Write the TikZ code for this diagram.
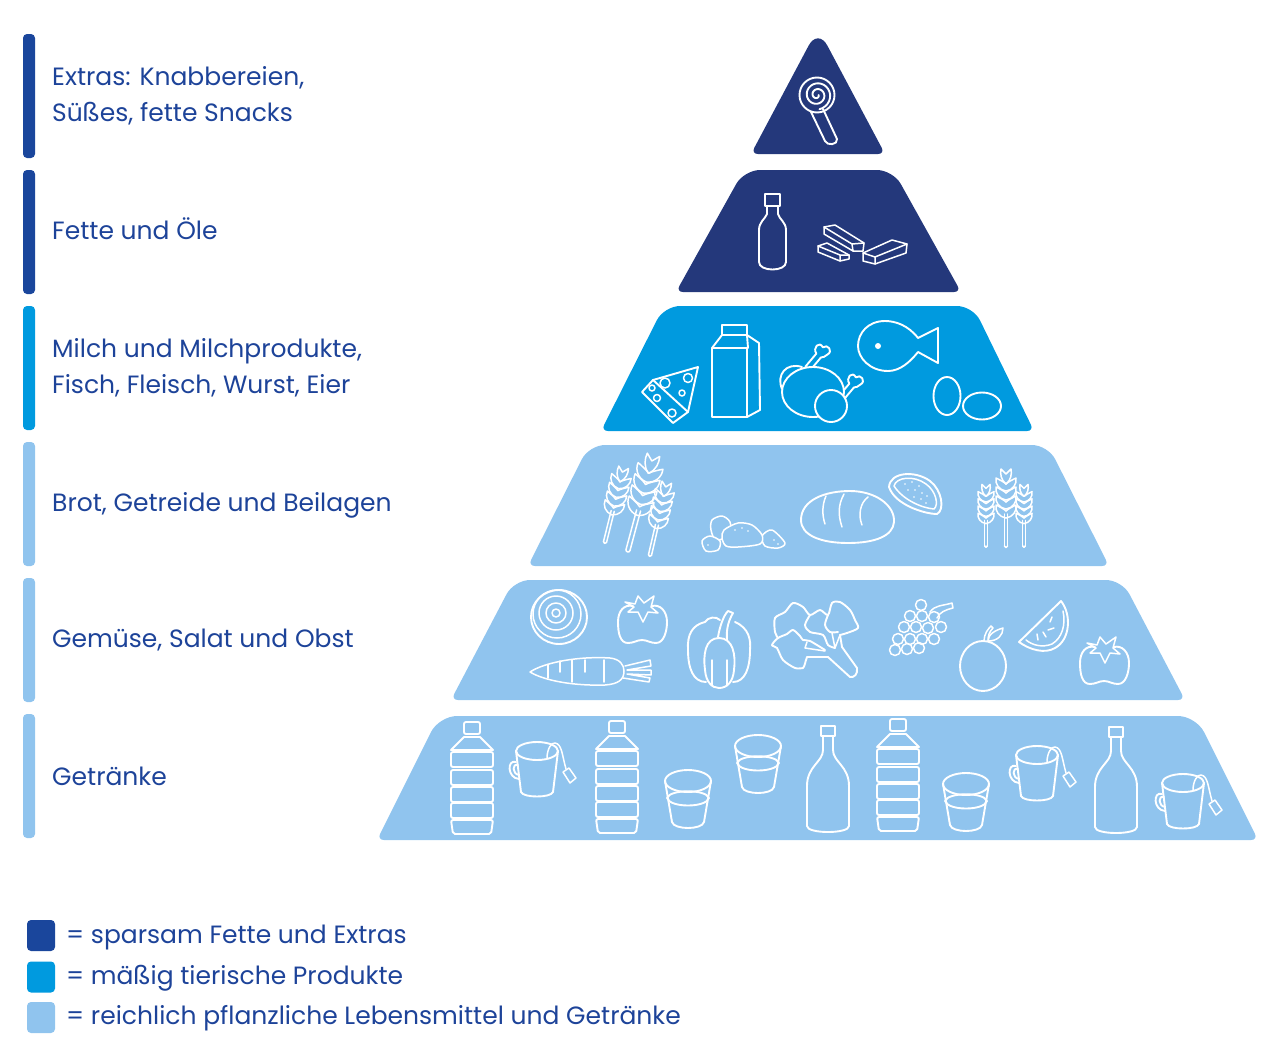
\documentclass[tikz,border=0pt]{standalone}
\usepackage{fontspec}
\setmainfont{Poppins}
\definecolor{tierdark}{HTML}{24387B}
\definecolor{tiermid}{HTML}{009ADF}
\definecolor{tierlight}{HTML}{90C4EE}
\definecolor{bardark}{HTML}{1A469C}
\definecolor{textblue}{HTML}{1D4399}
\begin{document}
\begin{tikzpicture}[
        x=1pt, y=-1pt,
        tierbar/.style={
            minimum width=12pt,
            minimum height=124pt,
            inner sep=0pt,
            rounded corners=4pt
        },
        swatch/.style={
            minimum width=28pt,
            minimum height=31pt,
            inner sep=0pt,
            rounded corners=4pt
        },
        etikett/.style={
            anchor=base west,
            inner sep=0pt,
            align=left,
            text=textblue,
            font=\fontsize{25}{36}\selectfont
        },
        icon/.style={draw=white, line width=1.9pt, line join=round, line cap=round},
        finicon/.style={draw=white, line width=1.5pt, line join=round, line cap=round},
        tomato/.pic={
            \draw[icon] (-9,-13) .. controls (-18,-15) and (-24,-8) .. (-24,3)
                .. controls (-24,14) and (-22,24) .. (-14,24)
                .. controls (-8,24) and (-5,21) .. (0,21)
                .. controls (5,21) and (8,24) .. (14,24)
                .. controls (22,24) and (25,12) .. (25,3)
                .. controls (25,-8) and (18,-15) .. (10,-13);
            \draw[finicon] (-17,-17) -- (-7,-15) -- (-4,-23) -- (2,-16) -- (12,-23) -- (9,-12)
                -- (16,-6) -- (6,-7) -- (1,3) -- (-4,-7) -- (-14,-7) -- (-8,-12) -- cycle;
        },
        wheat/.pic={
            \draw[finicon] (-1.6,0) -- (-1.6,-32) (1.6,0) -- (1.6,-32);
            \draw[finicon] (-1.6,0) .. controls (-1.6,2) and (1.6,2) .. (1.6,0);
            \foreach \y in {-28,-37,-46,-55} {
                \draw[finicon] (0,\y) .. controls (-7,\y-1) and (-11,\y-7) .. (-10,\y-13)
                    .. controls (-6,\y-11) and (-2,\y-9) .. (0,\y-7);
                \draw[finicon] (0,\y) .. controls (7,\y-1) and (11,\y-7) .. (10,\y-13)
                    .. controls (6,\y-11) and (2,\y-9) .. (0,\y-7);
            }
            \draw[finicon] (0,-62) .. controls (-5,-66) and (-6,-72) .. (-5,-77) -- (0,-72) -- (5,-77)
                .. controls (6,-72) and (5,-66) .. (0,-62);
        },
        waterbottle/.pic={
            \draw[icon, rounded corners=2pt] (-8,0) rectangle (8,12);
            \draw[icon] (-8,15) -- (8,15);
            \draw[icon] (-8,15) -- (-21,28) -- (21,28) -- (8,15);
            \foreach \y in {30,48,65,81} {
                \draw[icon, rounded corners=2pt] (-21,\y) rectangle (21,\y+15);
            }
            \draw[icon, rounded corners=2pt] (-21,98) -- (21,98) -- (19,112) -- (-19,112) -- cycle;
        },
        teamug/.pic={
            \draw[icon] (0,-19) circle[x radius=21, y radius=9];
            \draw[icon] (-21,-19) -- (-16,22) .. controls (-14,28) and (14,28) .. (16,22) -- (21,-19);
            \draw[icon] (-21,-8) .. controls (-30,-11) and (-30,8) .. (-18,9);
            \draw[icon] (-19,-5) .. controls (-25,-7) and (-25,4) .. (-18,5);
            \draw[finicon] (10,-12) .. controls (10,-20) and (14,-28) .. (18,-27)
                .. controls (25,-26) and (25,-15) .. (29,-1);
            \draw[finicon] (26,2) -- (32,-2) -- (39,8) -- (33,13) -- cycle;
        },
        waterglass/.pic={
            \draw[icon] (0,11) circle[x radius=23, y radius=11];
            \draw[icon] (-23,11) -- (-16,52) .. controls (-14,60) and (14,60) .. (16,52) -- (23,11);
            \draw[icon] (-21,28) .. controls (-18,19) and (18,19) .. (21,28);
            \draw[icon] (-21,28) .. controls (-18,38) and (18,38) .. (21,28);
        },
        winebottle/.pic={
            \draw[icon] (-7,0) rectangle (7,10);
            \draw[icon] (-5,10) -- (-5,24) .. controls (-5,36) and (-21,40) .. (-21,60)
                -- (-21,100) .. controls (-21,108) and (21,108) .. (21,100)
                -- (21,60) .. controls (21,40) and (5,36) .. (5,24) -- (5,10);
        },
        bone/.pic={
            \draw[icon, fill=tiermid] (-3,2) -- (-3,-15) .. controls (-10,-17) and (-9,-27) .. (-2,-24)
                .. controls (-1,-30) and (9,-28) .. (6,-21) .. controls (6,-18) and (4,-16) .. (3,-15)
                -- (3,2);
        }
    ]
    \useasboundingbox (0,0) rectangle (1280,1063);

    \node[tierbar, fill=bardark] (barextras) at (29,96) {};
    \node[tierbar, fill=bardark] (barfette) at (29,232) {};
    \node[tierbar, fill=tiermid] (barmilch) at (29,368) {};
    \node[tierbar, fill=tierlight] (barbrot) at (29,504) {};
    \node[tierbar, fill=tierlight] (bargemuese) at (29,640) {};
    \node[tierbar, fill=tierlight] (bargetraenke) at (29,776) {};

    \node[etikett] (extras) at (52,121) {Extras: Knabbereien,\\Süßes, fette Snacks};
    \node[etikett] (fette) at (52,239) {Fette und Öle};
    \node[etikett] (milch) at (52,393) {Milch und Milchprodukte,\\Fisch, Fleisch, Wurst, Eier};
    \node[etikett] (brot) at (52,511) {Brot, Getreide und Beilagen};
    \node[etikett] (gemuese) at (52,647) {Gemüse, Salat und Obst};
    \node[etikett] (getraenke) at (52,785) {Getränke};

    \fill[tierdark, rounded corners=7pt] (751,154) [rounded corners=20pt] -- (818,28)
        [rounded corners=7pt] -- (885,154) -- cycle;
    \fill[tierdark, rounded corners=7pt] (676,292) [rounded corners=16pt] -- (744,170) -- (893,170)
        [rounded corners=7pt] -- (961,292) -- cycle;
    \fill[tiermid, rounded corners=7pt] (601,431) [rounded corners=16pt] -- (664,306) -- (973,306)
        [rounded corners=7pt] -- (1034,431) -- cycle;
    \fill[tierlight, rounded corners=7pt] (528,566) [rounded corners=16pt] -- (589,445) -- (1048,445)
        [rounded corners=7pt] -- (1109,566) -- cycle;
    \fill[tierlight, rounded corners=7pt] (451,700) [rounded corners=16pt] -- (514,580) -- (1122,580)
        [rounded corners=7pt] -- (1185,700) -- cycle;
    \fill[tierlight, rounded corners=7pt] (377,840) [rounded corners=18pt] -- (439,716) -- (1196,716)
        [rounded corners=7pt] -- (1258,840) -- cycle;

    % lollipop
    \draw[icon] (817,95) circle[radius=17.5];
    \draw[icon] plot[domain=0:800, samples=60, smooth] ({817+(1.5+\x/62)*cos(\x)},{95+(1.5+\x/62)*sin(\x)});
    \draw[icon] (811,112) -- (825,141) .. controls (827,146) and (838,145) .. (837,139) -- (823,109);

    % oil and butter
    \draw[icon] (765,194) rectangle (780,206);
    \draw[icon] (767,206) -- (767,214) .. controls (765,219) and (759,222) .. (759,230) -- (759,262)
        .. controls (759,272) and (786,272) .. (786,262) -- (786,230)
        .. controls (786,222) and (779,219) .. (778,214) -- (778,206);
    \draw[finicon] (824,227) -- (835,225) -- (864,243) -- (863,251) -- (853,251) -- (824,234) -- cycle;
    \draw[finicon] (824,227) -- (852,244) -- (864,243) (852,244) -- (853,251);
    \draw[finicon] (818,246) -- (827,243) -- (849,255) -- (849,259) -- (840,261) -- (818,252) -- cycle;
    \draw[finicon] (818,246) -- (840,255) -- (849,255) (840,255) -- (840,261);
    \draw[finicon] (863,253) -- (892,240) -- (907,244) -- (906,253) -- (875,264) -- (863,261) -- cycle;
    \draw[finicon] (863,253) -- (875,257) -- (907,244) (875,257) -- (875,264);

    % cheese
    \draw[icon] (642,392) -- (653,380) -- (698,367) -- (688,412) -- (673,423) -- cycle;
    \draw[icon] (653,380) -- (688,412);
    \foreach \hx/\hy/\hr in {665/383/5, 688/378/4.5, 682/393/3, 652/388/3, 657/398/3.5, 672/413/4} {
        \draw[finicon] (\hx,\hy) circle[radius=\hr];
    }

    % milk
    \draw[icon] (722,335) -- (722,325) -- (747,325) -- (747,335);
    \draw[icon] (722,335) -- (747,335);
    \draw[icon] (712,348) rectangle (747,417);
    \draw[icon] (712,348) -- (722,335) (747,335) -- (759,343) -- (760,410) -- (747,417) (747,335) -- (748,348);

    % chicken
    \draw[icon] (802,367) .. controls (786,362) and (776,375) .. (782,389);
    \pic[rotate=-40] at (809,367) {bone};
    \pic[rotate=-40] at (842,397) {bone};
    \draw[icon, fill=tiermid] (813,392) circle[x radius=31, y radius=25];
    \draw[icon, fill=tiermid] (831,406) circle[radius=16];

    % fish
    \draw[icon] (918,338) .. controls (908,325) and (895,321) .. (885,321)
        .. controls (868,321) and (858,333) .. (858,346)
        .. controls (858,358) and (870,371) .. (888,371)
        .. controls (900,371) and (910,362) .. (918,352) -- (938,363) -- (938,328) -- cycle;
    \fill[white] (878,346) circle[radius=3];

    % eggs
    \draw[icon] (947,396) circle[x radius=13.5, y radius=19];
    \draw[icon] (982,406) circle[x radius=19, y radius=13.5];

    % grain
    \pic[rotate=-14] at (605,542) {wheat};
    \pic[rotate=-15, scale=1.28] at (628,550) {wheat};
    \pic[rotate=-13, scale=.97] at (650,555) {wheat};
    \pic[scale=.8] at (986,546) {wheat};
    \pic at (1006,546) {wheat};
    \pic[scale=.8] at (1024,546) {wheat};

    % potatoes
    \draw[finicon] plot[smooth cycle] coordinates {(712,520) (722,516) (730,522) (730,535) (716,540) (711,530)};
    \draw[finicon, fill=tierlight] plot[smooth cycle] coordinates {(702,541) (710,536) (720,541) (718,550) (706,551)};
    \draw[finicon, fill=tierlight] plot[smooth cycle] coordinates {(762,536) (772,530) (785,543) (778,548) (765,546)};
    \draw[finicon, fill=tierlight] plot[smooth cycle] coordinates {(724,530) (738,523) (752,525) (762,535) (760,544) (738,547) (726,546) (722,538)};
    \fill[white] (735,530) circle[radius=.8] (742,528) circle[radius=.8] (748,531) circle[radius=.8]
        (708,545) circle[radius=.8] (774,540) circle[radius=.8] (778,544) circle[radius=.8];

    % bread
    \draw[icon] (801,520) .. controls (801,500) and (825,491) .. (850,491)
        .. controls (875,491) and (895,505) .. (894,522)
        .. controls (893,536) and (875,543) .. (848,543)
        .. controls (820,543) and (801,535) .. (801,520) -- cycle;
    \draw[finicon] (826,496) .. controls (822,505) and (822,515) .. (825,524);
    \draw[finicon] (844,494) .. controls (838,505) and (838,515) .. (842,527);
    \draw[finicon] (868,497) .. controls (860,503) and (858,515) .. (862,525);
    \draw[icon] (889,487) .. controls (890,472) and (915,470) .. (930,481)
        .. controls (942,490) and (945,510) .. (937,514)
        .. controls (925,514) and (895,505) .. (889,487) -- cycle;
    \draw[finicon] (894,486) .. controls (896,477) and (914,475) .. (926,484)
        .. controls (936,491) and (939,505) .. (934,509)
        .. controls (922,508) and (903,500) .. (894,486) -- cycle;
    \foreach \dx/\dy in {905/484, 912/482, 919/486, 908/490, 915/490, 922/493, 914/497, 921/499, 927/496, 926/503} {
        \fill[white] (\dx,\dy) circle[radius=.8];
    }

    % onion
    \draw[icon] (559,617) circle[x radius=28, y radius=27];
    \foreach \rr/\ox/\oy in {24/557/614, 17/556/613, 10/556/613, 4/556/613} {
        \draw[finicon] (\ox,\oy) circle[radius=\rr];
    }

    % carrot
    \draw[finicon] (530,672) .. controls (545,662) and (580,656) .. (610,658)
        .. controls (620,659) and (624,665) .. (624,671)
        .. controls (624,680) and (618,684) .. (605,685)
        .. controls (575,686) and (545,681) .. (530,672) -- cycle;
    \draw[finicon] (548,665) -- (548,678) (560,661) -- (560,672) (572,660) -- (572,682) (585,660) -- (585,672) (604,660) -- (604,682);
    \draw[finicon] (625,666) -- (650,660) -- (651,666) -- (627,670) -- (651,670) -- (651,675) -- (627,674) -- (650,678) -- (649,682) -- (623,678);

    % tomatoes
    \pic at (642,619) {tomato};
    \pic at (1104,660) {tomato};

    % pepper
    \draw[icon] (705,622) .. controls (692,625) and (687,635) .. (688,650)
        .. controls (688,668) and (693,682) .. (706,682);
    \draw[icon] (735,622) .. controls (749,628) and (751,640) .. (750,650)
        .. controls (750,668) and (745,682) .. (733,682);
    \draw[icon] (719,638) .. controls (705,638) and (703,655) .. (705,670)
        .. controls (706,682) and (712,688) .. (719,688)
        .. controls (727,688) and (733,682) .. (734,670)
        .. controls (736,655) and (733,638) .. (719,638);
    \draw[icon] (705,622) .. controls (708,617) and (716,616) .. (720,620);
    \draw[icon] (718,637) .. controls (720,625) and (724,615) .. (728,611) -- (733,613)
        .. controls (729,620) and (726,628) .. (727,640);
    \draw[finicon] (712,660) -- (712,685) (727,660) -- (727,685);

    % broccoli
    \draw[icon] plot[smooth, tension=.5] coordinates {(778,638) (775,632) (775,618) (785,612) (793,603) (803,607) (810,615) (820,610) (828,615) (832,603) (840,602) (850,610) (855,620) (858,628) (847,633) (840,635)};
    \draw[icon] (840,635) -- (842,647) -- (857,668) .. controls (858,674) and (854,678) .. (850,677) -- (828,657) -- (807,657)
        .. controls (805,662) and (805,666) .. (803,668);
    \draw[icon] plot[smooth, tension=.5] coordinates {(803,668) (795,668) (783,660) (777,648) (772,645) (778,638) (787,634) (793,630) (800,636) (803,640) (810,641) (825,650)};
    \draw[finicon] (807,642) -- (805,648) -- (825,651);
    \draw[icon] plot[smooth, tension=.5] coordinates {(810,615) (805,625) (810,632) (823,635) (828,645) (835,648)};
    \draw[icon] plot[smooth, tension=.5] coordinates {(828,615) (825,625) (830,632) (838,632)};
    \draw[finicon] (832,633) -- (835,648) -- (840,635);

    % grapes
    \foreach \gx/\gy in {921/605, 910/616, 922/616, 934/617, 904/627, 916/627, 928/628, 941/627,
        898/639, 910/639, 922/639, 934/639, 895/650, 907/649, 919/648} {
        \draw[finicon] (\gx,\gy) circle[radius=5.5];
    }
    \draw[finicon] (930,612) .. controls (935,605) and (942,606) .. (952,603) -- (953,608)
        .. controls (945,610) and (940,612) .. (937,618);

    % apple
    \draw[icon] (983,666) circle[x radius=23, y radius=25];
    \draw[finicon] (984,641) .. controls (984,634) and (988,629) .. (991,626) -- (993,628)
        .. controls (989,632) and (988,636) .. (988,641);
    \draw[finicon] (988,641) .. controls (988,634) and (996,630) .. (1003,628)
        .. controls (1003,635) and (998,641) .. (988,641);

    % melon
    \draw[icon] (1061,601) .. controls (1072,615) and (1070,640) .. (1055,648)
        .. controls (1045,654) and (1030,650) .. (1019,642) -- cycle;
    \draw[finicon] (1063,611) .. controls (1066,625) and (1062,638) .. (1052,644)
        .. controls (1042,648) and (1032,645) .. (1026,640);
    \draw[finicon] (1050,622) -- (1052,617) (1048,630) -- (1054,628) (1043,632) -- (1046,637) (1037,634) -- (1038,640);

    % drinks
    \pic at (472,722) {waterbottle};
    \pic at (617,721) {waterbottle};
    \pic at (898,719) {waterbottle};
    \pic at (537,770) {teamug};
    \pic at (1037,774) {teamug};
    \pic at (1183,802) {teamug};
    \pic at (688,770) {waterglass};
    \pic at (758,735) {waterglass};
    \pic at (966,773) {waterglass};
    \pic at (828,726) {winebottle};
    \pic at (1116,727) {winebottle};

    \node[swatch, fill=bardark] (legendsparsam) at (41,935.5) {};
    \node[swatch, fill=tiermid] (legendmaessig) at (41,977) {};
    \node[swatch, fill=tierlight] (legendreichlich) at (41,1017.5) {};

    \node[etikett] (textsparsam) at (66,943) {= sparsam Fette und Extras};
    \node[etikett] (textmaessig) at (66,984) {= mäßig tierische Produkte};
    \node[etikett] (textreichlich) at (66,1024) {= reichlich pflanzliche Lebensmittel und Getränke};
\end{tikzpicture}
\end{document}
